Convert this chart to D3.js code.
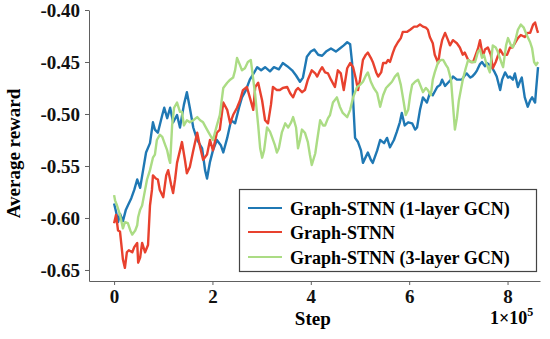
<!DOCTYPE html>
<html>
<head>
<meta charset="utf-8">
<script src="https://cdn.jsdelivr.net/npm/d3@7"></script>
<style>
  body { margin: 0; background: #fff; }
  svg { display: block; font-family: "Liberation Serif", "Times New Roman", serif; font-weight: bold; }
</style>
</head>
<body>
<svg id="chart"></svg>
<script>
// x in units of 1e5 steps, y = average reward
const seriesNames = ['Graph-STNN (1-layer GCN)', 'Graph-STNN', 'Graph-STNN (3-layer GCN)'];
const seriesColors = ['#1f78b4', '#e8412e', '#abdc84'];
const xTicks = [0, 2, 4, 6, 8];
const yTicks = [-0.40, -0.45, -0.50, -0.55, -0.60, -0.65];

const oneLayerGcn = [
  [0.00,-0.586],[0.04,-0.594],[0.08,-0.604],[0.12,-0.596],[0.18,-0.603],[0.24,-0.592],[0.28,-0.588],
  [0.35,-0.581],[0.41,-0.573],[0.47,-0.563],[0.53,-0.571],[0.59,-0.554],[0.65,-0.537],[0.73,-0.528],
  [0.79,-0.508],[0.83,-0.515],[0.89,-0.518],[0.98,-0.501],[1.02,-0.494],[1.08,-0.504],[1.14,-0.494],
  [1.20,-0.508],[1.28,-0.501],[1.34,-0.513],[1.42,-0.491],[1.48,-0.479],[1.54,-0.494],[1.61,-0.513],
  [1.69,-0.525],[1.79,-0.533],[1.85,-0.554],[1.89,-0.562],[1.95,-0.546],[2.01,-0.535],[2.09,-0.525],
  [2.17,-0.530],[2.22,-0.537],[2.30,-0.523],[2.38,-0.506],[2.46,-0.509],[2.54,-0.494],[2.60,-0.484],
  [2.68,-0.477],[2.76,-0.467],[2.85,-0.460],[2.91,-0.455],[2.99,-0.458],[3.07,-0.455],[3.17,-0.459],
  [3.25,-0.455],[3.35,-0.457],[3.43,-0.451],[3.52,-0.454],[3.62,-0.458],[3.70,-0.463],[3.78,-0.469],
  [3.84,-0.465],[3.92,-0.445],[4.00,-0.440],[4.07,-0.438],[4.15,-0.443],[4.23,-0.444],[4.31,-0.440],
  [4.41,-0.437],[4.51,-0.440],[4.59,-0.437],[4.67,-0.434],[4.74,-0.431],[4.80,-0.433],[4.84,-0.451],
  [4.86,-0.487],[4.90,-0.523],[4.96,-0.527],[5.02,-0.535],[5.06,-0.547],[5.12,-0.541],[5.16,-0.537],
  [5.22,-0.544],[5.26,-0.547],[5.35,-0.535],[5.41,-0.525],[5.49,-0.528],[5.55,-0.523],[5.61,-0.532],
  [5.69,-0.525],[5.75,-0.517],[5.81,-0.508],[5.85,-0.499],[5.91,-0.511],[5.98,-0.508],[6.06,-0.509],
  [6.12,-0.515],[6.16,-0.513],[6.22,-0.496],[6.28,-0.484],[6.36,-0.489],[6.42,-0.480],[6.48,-0.482],
  [6.57,-0.474],[6.63,-0.472],[6.67,-0.467],[6.73,-0.473],[6.79,-0.470],[6.85,-0.467],[6.89,-0.464],
  [6.97,-0.467],[7.07,-0.467],[7.13,-0.463],[7.17,-0.461],[7.24,-0.465],[7.28,-0.464],[7.34,-0.461],
  [7.38,-0.458],[7.44,-0.452],[7.48,-0.450],[7.54,-0.454],[7.58,-0.451],[7.64,-0.453],[7.68,-0.455],
  [7.74,-0.460],[7.78,-0.464],[7.85,-0.477],[7.89,-0.467],[7.95,-0.460],[8.01,-0.465],[8.05,-0.464],
  [8.11,-0.467],[8.15,-0.461],[8.21,-0.474],[8.25,-0.469],[8.29,-0.465],[8.35,-0.484],[8.41,-0.493],
  [8.46,-0.487],[8.50,-0.484],[8.56,-0.489],[8.58,-0.477],[8.62,-0.455]
];

const graphStnn = [
  [0.00,-0.605],[0.04,-0.597],[0.08,-0.612],[0.12,-0.613],[0.16,-0.631],[0.18,-0.640],[0.22,-0.648],
  [0.26,-0.633],[0.30,-0.631],[0.37,-0.633],[0.41,-0.628],[0.47,-0.624],[0.49,-0.643],[0.53,-0.638],
  [0.57,-0.624],[0.63,-0.633],[0.69,-0.626],[0.73,-0.588],[0.77,-0.573],[0.79,-0.559],[0.85,-0.562],
  [0.89,-0.563],[0.93,-0.573],[1.00,-0.580],[1.06,-0.559],[1.10,-0.554],[1.16,-0.568],[1.20,-0.576],
  [1.24,-0.563],[1.28,-0.547],[1.34,-0.535],[1.38,-0.527],[1.44,-0.544],[1.48,-0.557],[1.54,-0.551],
  [1.61,-0.535],[1.69,-0.518],[1.75,-0.532],[1.81,-0.544],[1.89,-0.539],[1.95,-0.525],[2.01,-0.535],
  [2.09,-0.518],[2.15,-0.515],[2.22,-0.489],[2.30,-0.496],[2.36,-0.509],[2.42,-0.501],[2.50,-0.494],
  [2.56,-0.487],[2.62,-0.477],[2.70,-0.474],[2.76,-0.484],[2.83,-0.496],[2.87,-0.474],[2.93,-0.470],
  [3.01,-0.487],[3.07,-0.506],[3.13,-0.509],[3.19,-0.491],[3.23,-0.474],[3.31,-0.477],[3.37,-0.477],
  [3.43,-0.475],[3.52,-0.474],[3.58,-0.480],[3.64,-0.484],[3.70,-0.477],[3.74,-0.475],[3.82,-0.479],
  [3.88,-0.477],[3.94,-0.467],[4.02,-0.458],[4.09,-0.461],[4.13,-0.464],[4.19,-0.458],[4.23,-0.455],
  [4.29,-0.460],[4.35,-0.461],[4.41,-0.467],[4.49,-0.474],[4.55,-0.458],[4.61,-0.461],[4.67,-0.477],
  [4.74,-0.456],[4.80,-0.451],[4.86,-0.455],[4.92,-0.467],[4.96,-0.477],[5.00,-0.467],[5.06,-0.448],
  [5.12,-0.443],[5.16,-0.441],[5.22,-0.446],[5.26,-0.450],[5.33,-0.460],[5.37,-0.464],[5.43,-0.460],
  [5.47,-0.451],[5.53,-0.451],[5.57,-0.448],[5.61,-0.450],[5.67,-0.441],[5.71,-0.436],[5.77,-0.431],
  [5.83,-0.427],[5.87,-0.421],[5.96,-0.421],[6.02,-0.419],[6.10,-0.416],[6.16,-0.416],[6.22,-0.414],
  [6.28,-0.416],[6.34,-0.417],[6.38,-0.419],[6.42,-0.426],[6.48,-0.432],[6.52,-0.443],[6.59,-0.451],
  [6.63,-0.438],[6.67,-0.429],[6.73,-0.422],[6.79,-0.429],[6.83,-0.434],[6.89,-0.429],[6.97,-0.432],
  [7.03,-0.436],[7.09,-0.443],[7.13,-0.441],[7.20,-0.448],[7.26,-0.450],[7.30,-0.450],[7.34,-0.445],
  [7.40,-0.437],[7.44,-0.429],[7.50,-0.445],[7.54,-0.438],[7.60,-0.436],[7.66,-0.443],[7.70,-0.456],
  [7.76,-0.450],[7.85,-0.438],[7.91,-0.443],[7.99,-0.443],[8.05,-0.436],[8.09,-0.436],[8.15,-0.432],
  [8.21,-0.427],[8.27,-0.424],[8.35,-0.426],[8.41,-0.422],[8.46,-0.422],[8.52,-0.414],[8.56,-0.412],
  [8.60,-0.419],[8.62,-0.422]
];

const threeLayerGcn = [
  [0.00,-0.578],[0.02,-0.583],[0.06,-0.588],[0.12,-0.597],[0.18,-0.610],[0.22,-0.604],[0.28,-0.605],
  [0.33,-0.612],[0.37,-0.616],[0.43,-0.612],[0.47,-0.607],[0.49,-0.599],[0.53,-0.592],[0.57,-0.588],
  [0.61,-0.578],[0.67,-0.563],[0.73,-0.554],[0.79,-0.542],[0.83,-0.539],[0.87,-0.525],[0.93,-0.520],
  [0.98,-0.522],[1.04,-0.530],[1.08,-0.535],[1.12,-0.544],[1.14,-0.547],[1.18,-0.511],[1.22,-0.494],
  [1.28,-0.489],[1.34,-0.498],[1.38,-0.498],[1.42,-0.511],[1.48,-0.506],[1.54,-0.508],[1.61,-0.506],
  [1.69,-0.503],[1.75,-0.506],[1.81,-0.508],[1.89,-0.515],[1.95,-0.520],[2.01,-0.525],[2.09,-0.511],
  [2.15,-0.501],[2.22,-0.475],[2.30,-0.470],[2.36,-0.467],[2.42,-0.465],[2.46,-0.458],[2.50,-0.446],
  [2.56,-0.453],[2.60,-0.458],[2.66,-0.456],[2.72,-0.450],[2.78,-0.448],[2.83,-0.467],[2.87,-0.482],
  [2.93,-0.511],[2.97,-0.533],[3.01,-0.542],[3.05,-0.535],[3.11,-0.513],[3.17,-0.517],[3.21,-0.522],
  [3.27,-0.530],[3.31,-0.537],[3.35,-0.533],[3.41,-0.518],[3.48,-0.509],[3.54,-0.513],[3.60,-0.508],
  [3.64,-0.503],[3.70,-0.513],[3.74,-0.533],[3.78,-0.525],[3.82,-0.515],[3.88,-0.518],[3.94,-0.527],
  [3.98,-0.539],[4.02,-0.549],[4.09,-0.538],[4.13,-0.525],[4.19,-0.506],[4.25,-0.511],[4.29,-0.511],
  [4.35,-0.504],[4.39,-0.501],[4.45,-0.489],[4.53,-0.484],[4.59,-0.493],[4.65,-0.499],[4.74,-0.503],
  [4.80,-0.496],[4.86,-0.484],[4.94,-0.474],[5.00,-0.472],[5.06,-0.469],[5.12,-0.463],[5.16,-0.460],
  [5.22,-0.469],[5.28,-0.475],[5.35,-0.480],[5.41,-0.493],[5.47,-0.482],[5.53,-0.475],[5.59,-0.472],
  [5.65,-0.469],[5.71,-0.464],[5.77,-0.461],[5.83,-0.472],[5.89,-0.489],[5.93,-0.501],[5.98,-0.496],
  [6.02,-0.482],[6.06,-0.472],[6.12,-0.469],[6.18,-0.467],[6.24,-0.474],[6.28,-0.479],[6.34,-0.475],
  [6.38,-0.477],[6.44,-0.482],[6.48,-0.467],[6.52,-0.460],[6.59,-0.450],[6.65,-0.448],[6.69,-0.448],
  [6.75,-0.453],[6.79,-0.456],[6.85,-0.467],[6.89,-0.491],[6.93,-0.515],[6.97,-0.504],[7.01,-0.487],
  [7.05,-0.477],[7.09,-0.467],[7.15,-0.456],[7.20,-0.448],[7.26,-0.450],[7.34,-0.450],[7.40,-0.440],
  [7.44,-0.438],[7.48,-0.446],[7.52,-0.443],[7.56,-0.450],[7.64,-0.460],[7.70,-0.434],[7.76,-0.436],
  [7.80,-0.440],[7.87,-0.450],[7.91,-0.455],[7.97,-0.434],[8.01,-0.427],[8.07,-0.434],[8.11,-0.436],
  [8.17,-0.427],[8.21,-0.419],[8.27,-0.414],[8.33,-0.417],[8.39,-0.424],[8.46,-0.431],[8.50,-0.437],
  [8.54,-0.450],[8.58,-0.453],[8.62,-0.450]
];

class LineChart {
  constructor(_config, _series) {
    this.config = {
      parentElement: _config.parentElement,
      containerWidth: _config.containerWidth || 550,
      containerHeight: _config.containerHeight || 339,
      margin: {top: 10, right: 10, bottom: 58, left: 89}
    };
    this.series = _series;
    this.initVis();
  }

  initVis() {
    let vis = this;

    vis.width = vis.config.containerWidth - vis.config.margin.left - vis.config.margin.right;
    vis.height = vis.config.containerHeight - vis.config.margin.top - vis.config.margin.bottom;

    vis.svg = d3.select(vis.config.parentElement)
        .attr('width', vis.config.containerWidth)
        .attr('height', vis.config.containerHeight);

    vis.chart = vis.svg.append('g')
        .attr('transform', `translate(${vis.config.margin.left},${vis.config.margin.top})`);

    vis.xScale = d3.scaleLinear()
        .domain([-0.51, 8.66])
        .range([0, vis.width]);

    vis.yScale = d3.scaleLinear()
        .domain([-0.6606, -0.40])
        .range([vis.height, 0]);

    vis.xAxis = d3.axisBottom(vis.xScale)
        .tickValues(xTicks)
        .tickSize(4)
        .tickSizeOuter(0)
        .tickPadding(5)
        .tickFormat(d => d);

    vis.yAxis = d3.axisLeft(vis.yScale)
        .tickValues(yTicks)
        .tickSize(4)
        .tickSizeOuter(0)
        .tickPadding(5)
        .tickFormat(d => d.toFixed(2));

    vis.xAxisGroup = vis.chart.append('g')
        .attr('class', 'axis x-axis')
        .attr('transform', `translate(0,${vis.height})`)
        .call(vis.xAxis);

    vis.yAxisGroup = vis.chart.append('g')
        .attr('class', 'axis y-axis')
        .call(vis.yAxis);

    // d3 puts sans-serif 10px on the axis groups, override it
    [vis.xAxisGroup, vis.yAxisGroup].forEach(g => {
      g.attr('font-family', null).attr('font-size', null);
      g.selectAll('path, line').attr('stroke', '#606060');
      g.selectAll('text')
          .attr('fill', '#111')
          .style('font-family', '"Liberation Serif", serif')
          .style('font-weight', 'bold')
          .style('font-size', '19px');
    });

    // lines
    vis.line = d3.line()
        .x(d => vis.xScale(d[0]))
        .y(d => vis.yScale(d[1]));

    vis.chart.selectAll('.series')
        .data(vis.series)
        .enter()
      .append('path')
        .attr('class', 'series')
        .attr('fill', 'none')
        .attr('stroke', d => d.color)
        .attr('stroke-width', 2.4)
        .attr('stroke-linejoin', 'round')
        .attr('d', d => vis.line(d.values));

    // axis titles
    vis.svg.append('text')
        .attr('transform', `translate(20,${vis.config.margin.top + vis.height / 2 + 8}) rotate(-90)`)
        .attr('text-anchor', 'middle')
        .style('font-size', '19px')
        .text('Average reward');

    vis.svg.append('text')
        .attr('x', vis.config.margin.left + vis.xScale(4.04))
        .attr('y', 325)
        .attr('text-anchor', 'middle')
        .style('font-size', '19px')
        .text('Step');

    let mult = vis.svg.append('text')
        .attr('x', 490)
        .attr('y', 324)
        .style('font-size', '18px');
    mult.append('tspan').text('1×10');
    mult.append('tspan').attr('dy', -8).style('font-size', '12px').text('5');

    // legend
    let lg = vis.svg.append('g').attr('class', 'legend');
    lg.append('rect')
        .attr('x', 239.5).attr('y', 189.5)
        .attr('width', 297).attr('height', 82)
        .attr('fill', '#fff')
        .attr('stroke', '#444')
        .attr('stroke-width', 1.2);

    let rowY = [208, 232, 257];
    let items = lg.selectAll('.item')
        .data(vis.series)
        .enter()
      .append('g')
        .attr('class', 'item')
        .attr('transform', (d, i) => `translate(0,${rowY[i]})`);

    items.append('line')
        .attr('x1', 248).attr('x2', 282)
        .attr('stroke', d => d.color)
        .attr('stroke-width', 2);

    items.append('text')
        .attr('x', 290)
        .attr('y', 7)
        .style('font-size', '18px')
        .text(d => d.name);
  }
}

const chartSeries = [oneLayerGcn, graphStnn, threeLayerGcn].map((values, i) => ({
  name: seriesNames[i],
  color: seriesColors[i],
  values: values
}));

new LineChart({parentElement: '#chart'}, chartSeries);
</script>
</body>
</html>
